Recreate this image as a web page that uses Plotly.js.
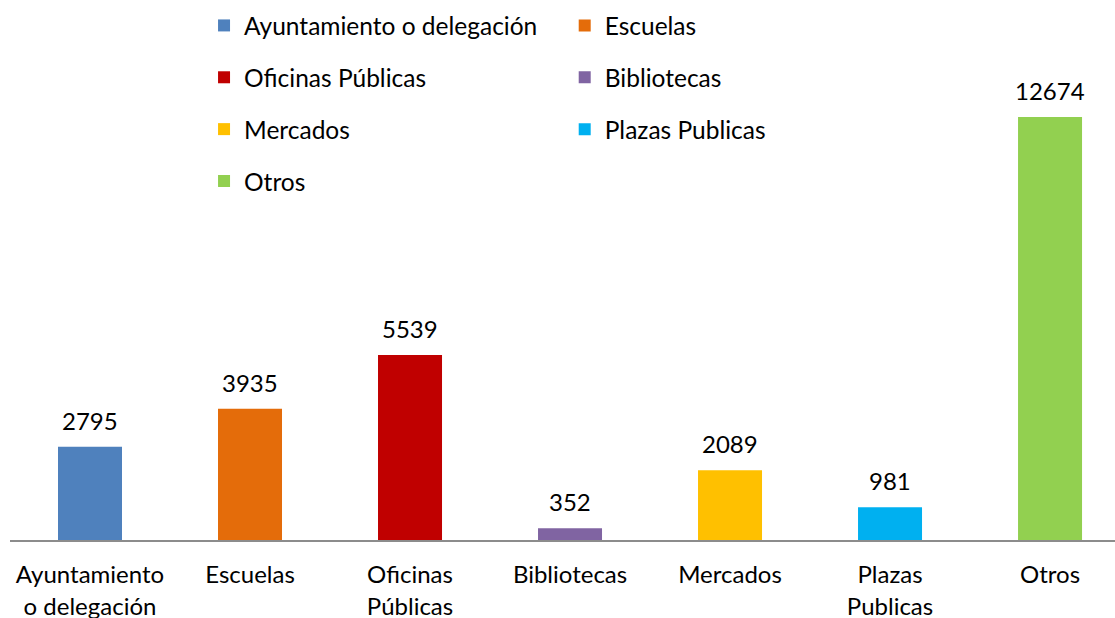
<!DOCTYPE html>
<html>
<head>
<meta charset="utf-8">
<script src="https://cdn.plot.ly/plotly-3.0.1.min.js"></script>
<style>html,body{margin:0;padding:0;background:#fff;}#chart{width:1115px;height:618px;}</style>
</head>
<body>
<div id="chart"></div>
<script>
const categories = ['Ayuntamiento o delegación', 'Escuelas', 'Oficinas Públicas', 'Bibliotecas', 'Mercados', 'Plazas Publicas', 'Otros'];
const tickLabels = ['Ayuntamiento<br>o delegación', 'Escuelas', 'Oficinas<br>Públicas', 'Bibliotecas', 'Mercados', 'Plazas<br>Publicas', 'Otros'];
const values = [2795, 3935, 5539, 352, 2089, 981, 12674];
const colors = ['#4F81BD', '#E46C0A', '#C00000', '#8064A2', '#FFC000', '#00B0F0', '#92D050'];

const FONT = 'Lato, "Open Sans", sans-serif';
const traces = categories.map((c, i) => ({
  type: 'bar',
  x: [c],
  y: [values[i]],
  name: c,
  width: 0.4,
  marker: {color: colors[i], line: {width: 0}},
  legend: (i % 2 === 0) ? 'legend' : 'legend2',
  legendgroup: 'g' + i,
  hoverinfo: 'x+y'
}));

const annotations = categories.map((c, i) => ({
  x: c, y: values[i], xref: 'x', yref: 'y',
  text: String(values[i]), showarrow: false,
  yanchor: 'bottom', yshift: 10,
  font: {family: FONT, size: 24, color: '#000'}
}));

const legendCommon = {
  orientation: 'v', yanchor: 'top', xanchor: 'left',
  font: {family: FONT, size: 24.5, color: '#000'},
  bgcolor: 'rgba(0,0,0,0)', tracegroupgap: 17, traceorder: 'grouped',
  itemclick: false, itemdoubleclick: false
};

const layout = {
  width: 1115, height: 618,
  margin: {l: 10, r: 0, t: 40, b: 78},
  paper_bgcolor: '#fff', plot_bgcolor: '#fff',
  barmode: 'overlay',
  font: {family: FONT, size: 24, color: '#000'},
  xaxis: {
    type: 'category', range: [-0.5, 6.406],
    tickvals: categories, ticktext: tickLabels,
    showline: true, linecolor: '#8C8C8C', linewidth: 1.5,
    ticks: '', showgrid: false, zeroline: false,
    ticklabelstandoff: 13,
    tickfont: {family: FONT, size: 24, color: '#000'}
  },
  yaxis: {range: [0, 14980], visible: false, showgrid: false, zeroline: false},
  showlegend: true,
  legend: Object.assign({}, legendCommon, {x: 0.1756, y: 1.074}),
  legend2: Object.assign({}, legendCommon, {x: 0.502, y: 1.074}),
  annotations: annotations
};

Plotly.newPlot('chart', traces, layout, {displayModeBar: false, staticPlot: true});
</script>
</body>
</html>
